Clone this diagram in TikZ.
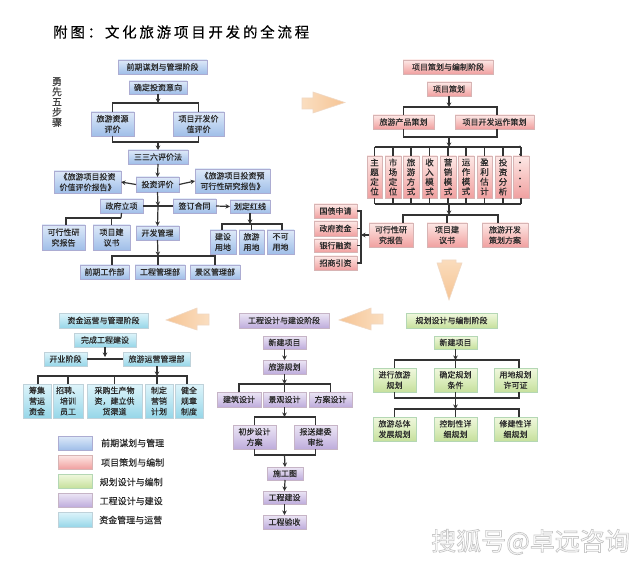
\documentclass[tikz,border=0pt]{standalone}
\usepackage{graphicx}
\usepackage{fontspec}
\setmainfont{Noto Sans CJK SC}
\newfontfamily\titlefont[LetterSpace=19,FakeBold=0.15]{Noto Sans CJK SC}
\newfontfamily\boxfont[FakeBold=0.3]{Noto Sans CJK SC}
\usetikzlibrary{arrows.meta,shadows}
\definecolor{lc}{HTML}{333333}
\definecolor{tc}{HTML}{2A2A2A}
\tikzset{
 box/.style={rectangle,inner sep=0pt,outer sep=0pt,align=center,text=tc,font=\boxfont\fontsize{8}{10.6}\selectfont,
   drop shadow={shadow xshift=1pt,shadow yshift=-1pt,fill=gray,opacity=.55}},
 bbox/.style={box,top color={rgb,255:red,222;green,233;blue,248},bottom color={rgb,255:red,160;green,190;blue,232},middle color={rgb,255:red,190;green,212;blue,241},draw=blue!30!gray!50!white},
 rbox/.style={box,top color={rgb,255:red,253;green,232;blue,230},bottom color={rgb,255:red,240;green,160;blue,160},middle color={rgb,255:red,247;green,196;blue,194},draw=red!30!gray!45!white},
 gbox/.style={box,top color={rgb,255:red,240;green,248;blue,222},bottom color={rgb,255:red,198;green,224;blue,156},middle color={rgb,255:red,220;green,237;blue,190},draw=green!30!gray!45!white},
 pbox/.style={box,top color={rgb,255:red,236;green,230;blue,245},bottom color={rgb,255:red,190;green,172;blue,220},middle color={rgb,255:red,214;green,202;blue,233},draw=violet!30!gray!45!white},
 cbox/.style={box,top color={rgb,255:red,222;green,244;blue,250},bottom color={rgb,255:red,150;green,214;blue,232},middle color={rgb,255:red,188;green,230;blue,242},draw=cyan!30!gray!45!white},
 ln/.style={draw=lc,line width=1.2pt},
 arr/.style={ln,-{Stealth[length=4.5pt,width=4.5pt]}},
 big/.style={draw={rgb,255:red,240;green,216;blue,196},line width=.6pt},
 lab/.style={text=tc,inner sep=0pt,font=\boxfont\fontsize{9}{11}\selectfont},
}
\newcommand{\bx}[7]{\node[#1,minimum width={(#5-#3)*1pt},minimum height={(#6-#4)*1pt}] (#2) at ({(#3+#5)/2},{-(#4+#6)/2}) {#7};}
\begin{document}
\begin{tikzpicture}[x=1pt,y=1pt]
\useasboundingbox[fill=white] (0,0) rectangle (640,-564);
\node[anchor=west,inner sep=0pt,text=black,font=\titlefont\fontsize{14.5}{16}\selectfont] (title) at (53,-32) {附图：文化旅游项目开发的全流程};
\node[align=center,inner sep=0pt,text=black!75,font=\boxfont\fontsize{10}{10.2}\selectfont] (steps) at (57,-102) {勇\\先\\五\\步\\骤};

% --- blue
\bx{bbox}{b0}{118}{60}{207}{74}{前期谋划与管理阶段}
\bx{bbox}{b1}{129}{81}{187}{94}{确定投资意向}
\bx{bbox}{b2}{91}{112}{134}{136}{旅游资源\\评价}
\bx{bbox}{b3}{173}{112}{224}{136}{项目开发价\\值评价}
\bx{bbox}{b4}{128}{150}{188}{164}{三三六评价法}
\bx{bbox}{b5}{136}{177}{179}{192}{投资评价}
\bx{bbox}{b6}{54}{171}{121}{193}{《旅游项目投资\\价值评价报告》}
\bx{bbox}{b7}{195}{169}{270}{193}{《旅游项目投资预\\可行性研究报告》}
\bx{bbox}{b8}{100}{199}{143}{213}{政府立项}
\bx{bbox}{b9}{173}{199}{216}{213}{签订合同}
\bx{bbox}{b10}{230}{200}{270}{213}{划定红线}
\bx{bbox}{b11}{42}{225}{85}{250}{可行性研\\究报告}
\bx{bbox}{b12}{93}{225}{130}{250}{项目建\\议书}
\bx{bbox}{b13}{136}{226}{179}{240}{开发管理}
\bx{bbox}{b14}{210}{230}{236}{254}{建设\\用地}
\bx{bbox}{b15}{239}{230}{264}{254}{旅游\\用地}
\bx{bbox}{b16}{267}{230}{294}{254}{不可\\用地}
\bx{bbox}{b17}{80}{265}{129}{279}{前期工作部}
\bx{bbox}{b18}{135}{265}{185}{279}{工程管理部}
\bx{bbox}{b19}{190}{265}{240}{279}{景区管理部}
\coordinate (bh1) at (158,-103);
\coordinate (bh2) at (158,-142);
\coordinate (bh3) at (158,-206);
\coordinate (bh4) at (121,-218);
\coordinate (bh5) at (250,-224);
\coordinate (bh6) at (158,-256);
\coordinate (bx1) at (66,-218);
\coordinate (bx2) at (112,-256);
\coordinate (bx3) at (215,-256);
\coordinate (bx4) at (222,-224);
\coordinate (bx5) at (282,-224);
\draw[arr] (b1.south) -- (bh1);
\draw[ln] (b2.north) -- (b2.north |- bh1) -- (b3.north |- bh1) -- (b3.north);
\draw[ln] (b2.south) -- (b2.south |- bh2) -- (b3.south |- bh2) -- (b3.south);
\draw[arr] (bh2) -- (b4.north);
\draw[arr] (b4.south) -- (b5.north);
\draw[arr] (b5.west) -- (b6.east);
\draw[arr] (b5.east) -- (b7.west);
\draw[arr] (b5.south) -- (bh3);
\draw[arr] (bh3) -- (b13.north);
\draw[ln] (b8.east) -- (b9.west);
\draw[arr] (b9.east) -- (b10.west);
\draw[ln] (b8.south) -- (bh4);
\draw[ln] (bx1 |- b11.north) -- (bx1) -- (bh4);
\draw[ln] (b12.north) -- (b12.north |- bh4);
\draw[arr] (b10.south -| bh5) -- (bh5);
\draw[ln] (bx4 |- b14.north) -- (bx4) -- (bx5) -- (bx5 |- b16.north);
\draw[ln] (b15.north) -- (b15.north |- bh5);
\draw[arr] (b13.south) -- (bh6);
\draw[ln] (bx2 |- b17.north) -- (bx2) -- (bx3) -- (bx3 |- b19.north);
\draw[ln] (bh6) -- (bh6 |- b18.north);

% --- red
\bx{rbox}{r0}{403}{60}{493}{74}{项目策划与编制阶段}
\bx{rbox}{r1}{427}{82}{471}{96}{项目策划}
\bx{rbox}{r2}{373}{115}{434}{129}{旅游产品策划}
\bx{rbox}{r3}{455}{115}{534}{129}{项目开发运作策划}
\tikzset{vb/.style={rbox,font=\boxfont\fontsize{8.5}{9.7}\selectfont}}
\bx{vb}{v1}{367}{156}{382}{198}{主\\题\\定\\位}
\bx{vb}{v2}{385}{156}{401}{198}{市\\场\\定\\位}
\bx{vb}{v3}{403}{156}{419}{198}{旅\\游\\方\\式}
\bx{vb}{v4}{422}{156}{437}{198}{收\\入\\模\\式}
\bx{vb}{v5}{440}{156}{456}{198}{营\\销\\模\\式}
\bx{vb}{v6}{458}{156}{474}{198}{运\\作\\模\\式}
\bx{vb}{v7}{477}{156}{492}{198}{盈\\利\\估\\计}
\bx{vb}{v8}{495}{156}{511}{198}{投\\资\\分\\析}
\bx{rbox}{v9}{513}{156}{529}{198}{\rotatebox{90}{\makebox[27pt][s]{·\hfil·\hfil·\hfil·\hfil·\hfil·}}}
\bx{rbox}{r4}{369}{223}{413}{247}{可行性研\\究报告}
\bx{rbox}{r5}{427}{223}{467}{247}{项目建\\议书}
\bx{rbox}{r6}{482}{223}{528}{247}{旅游开发\\策划方案}
\bx{rbox}{r7}{314}{204}{357}{218}{国债申请}
\bx{rbox}{r8}{314}{221}{357}{236}{政府资金}
\bx{rbox}{r9}{314}{239}{357}{252}{银行融资}
\bx{rbox}{r10}{314}{256}{357}{270}{招商引资}
\coordinate (rh1) at (449,-107);
\coordinate (rl1) at (403.5,-107);
\coordinate (rr1) at (497,-107);
\coordinate (rh2) at (449,-137);
\coordinate (rh3) at (449,-147);
\coordinate (rh4) at (449,-204);
\coordinate (rh5) at (449,-215);
\coordinate (rl2) at (403,-215);
\coordinate (rr2) at (498,-215);
\coordinate (rb) at (361,-236);
\draw[arr] (r1.south) -- (rh1);
\draw[ln] (rl1 |- r2.north) -- (rl1) -- (rr1) -- (rr1 |- r3.north);
\draw[ln] (rl1 |- r2.south) -- (rl1 |- rh2) -- (rr1 |- rh2) -- (rr1 |- r3.south);
\draw[arr] (rh2) -- (rh3);
\draw[ln] (v1.north |- rh3) -- (v9.north |- rh3);
\draw[ln] (v1.south |- rh4) -- (v9.south |- rh4);
\foreach \n in {v1,v2,v3,v4,v5,v6,v7,v8,v9}{
  \draw[ln] (\n.north) -- (\n.north |- rh3);
  \draw[ln] (\n.south) -- (\n.south |- rh4);
}
\draw[arr] (rh4) -- (rh5);
\draw[ln] (rl2 |- r4.north) -- (rl2) -- (rr2) -- (rr2 |- r6.north);
\draw[ln] (r5.north) -- (r5.north |- rh5);
\draw[ln] (r7.east) -- (r7.east -| rb) -- (r10.east -| rb) -- (r10.east);
\draw[ln] (r8.east) -- (r8.east -| rb);
\draw[ln] (r9.east) -- (r9.east -| rb);
\draw[arr] (r4.west) -- (r4.west -| rb);

% --- green
\bx{gbox}{g0}{406}{313}{497}{328}{规划设计与编制阶段}
\bx{gbox}{g1}{434}{336}{477}{349}{新建项目}
\bx{gbox}{g2}{373}{368}{416}{392}{进行旅游\\规划}
\bx{gbox}{g3}{434}{368}{477}{392}{确定规划\\条件}
\bx{gbox}{g4}{494}{368}{537}{392}{用地规划\\许可证}
\bx{gbox}{g5}{373}{417}{416}{441}{旅游总体\\发展规划}
\bx{gbox}{g6}{434}{417}{477}{441}{控制性详\\细规划}
\bx{gbox}{g7}{494}{417}{537}{441}{修建性详\\细规划}
\coordinate (gh1) at (455.5,-360);
\coordinate (gh2) at (455.5,-398);
\coordinate (gh3) at (455.5,-409);
\coordinate (gr) at (519,-360);
\draw[arr] (g1.south) -- (gh1);
\draw[ln] (g2.north) -- (g2.north |- gh1) -- (gr) -- (gr |- g4.north);
\draw[ln] (g3.north) -- (gh1);
\draw[ln] (g2.south) -- (g2.south |- gh2) -- (gr |- gh2) -- (gr |- g4.south);
\draw[ln] (g3.south) -- (gh2);
\draw[arr] (gh2) -- (gh3);
\draw[ln] (g5.north) -- (g5.north |- gh3) -- (gr |- gh3) -- (gr |- g7.north);
\draw[ln] (g6.north) -- (gh3);

% --- purple
\bx{pbox}{p0}{239}{313}{329}{328}{工程设计与建设阶段}
\bx{pbox}{p1}{263}{336}{306}{349}{新建项目}
\bx{pbox}{p2}{263}{360}{306}{374}{旅游规划}
\bx{pbox}{p3}{217}{392}{261}{407}{建筑设计}
\bx{pbox}{p4}{263}{392}{306}{407}{景观设计}
\bx{pbox}{p5}{309}{392}{352}{407}{方案设计}
\bx{pbox}{p6}{233}{425}{276}{449}{初步设计\\方案}
\bx{pbox}{p7}{294}{425}{337}{449}{报送建委\\审批}
\bx{pbox}{p8}{267}{467}{303}{480}{施工图}
\bx{pbox}{p9}{263}{491}{306}{504}{工程建设}
\bx{pbox}{p10}{263}{515}{306}{529}{工程验收}
\coordinate (ph1) at (284.5,-384);
\coordinate (ph2) at (284.5,-417);
\coordinate (ph3) at (284.5,-455);
\draw[arr] (p1.south) -- (p2.north);
\draw[arr] (p2.south) -- (ph1);
\draw[ln] (p3.north) -- (p3.north |- ph1) -- (p5.north |- ph1) -- (p5.north);
\draw[ln] (p4.north) -- (ph1);
\draw[arr] (p4.south) -- (ph2);
\draw[ln] (p6.north) -- (p6.north |- ph2) -- (p7.north |- ph2) -- (p7.north);
\draw[ln] (p6.south) -- (p6.south |- ph3) -- (p7.south |- ph3) -- (p7.south);
\draw[arr] (ph3) -- (p8.north);
\draw[arr] (p8.south) -- (p9.north);
\draw[arr] (p9.south) -- (p10.north);

% --- cyan
\bx{cbox}{c0}{59}{313}{148}{328}{资金运营与管理阶段}
\bx{cbox}{c1}{74}{333}{136}{347}{完成工程建设}
\bx{cbox}{c2}{44}{352}{87}{366}{开业阶段}
\bx{cbox}{c3}{123}{352}{190}{366}{旅游运营管理部}
\bx{cbox}{c4}{23}{384}{51}{418}{筹集\\营运\\资金}
\bx{cbox}{c5}{53}{384}{83}{418}{招聘、\\培训\\员工}
\bx{cbox}{c6}{87}{384}{142}{418}{采购生产物\\资，建立供\\货渠道}
\bx{cbox}{c7}{145}{384}{173}{418}{制定\\营销\\计划}
\bx{cbox}{c8}{175}{384}{203}{418}{健全\\规章\\制度}
\coordinate (ch1) at (105,-357);
\coordinate (ch2) at (157,-376);
\coordinate (cl) at (38,-376);
\coordinate (cr) at (187,-376);
\draw[ln] (c2.east) -- (c3.west);
\draw[arr] (c1.south) -- (ch1);
\draw[arr] (c3.south -| ch2) -- (ch2);
\draw[ln] (cl |- c4.north) -- (cl) -- (cr) -- (cr |- c8.north);
\draw[ln] (c5.north) -- (c5.north |- ch2);
\draw[ln] (c6.north) -- (c6.north |- ch2);
\draw[ln] (ch2) -- (ch2 |- c7.north);

% --- legend
\bx{bbox}{l1}{58}{436}{92}{450}{}
\bx{rbox}{l2}{58}{455}{92}{469}{}
\bx{gbox}{l3}{58}{474}{92}{488}{}
\bx{pbox}{l4}{58}{493}{92}{507}{}
\bx{cbox}{l5}{58}{512}{92}{527}{}
\node[lab,anchor=west] (t1) at (101,-443) {前期谋划与管理};
\node[lab,anchor=west] (t2) at (101,-462.5) {项目策划与编制};
\node[lab,anchor=west] (t3) at (99.5,-482) {规划设计与编制};
\node[lab,anchor=west] (t4) at (99.5,-501) {工程设计与建设};
\node[lab,anchor=west] (t5) at (99,-520) {资金管理与运营};

% --- big arrows
\path[big,left color={rgb,255:red,250;green,222;blue,192},right color={rgb,255:red,246;green,196;blue,148}]
  (302,-98) -- (313,-98) -- (313,-92) -- (345,-102.5) -- (313,-113) -- (313,-109) -- (302,-109) -- cycle;
\path[big,top color={rgb,255:red,250;green,220;blue,188},bottom color={rgb,255:red,246;green,196;blue,148}]
  (442,-260) -- (456,-260) -- (456,-263) -- (462,-263) -- (449,-300) -- (437,-263) -- (442,-263) -- cycle;
\path[big,right color={rgb,255:red,250;green,222;blue,192},left color={rgb,255:red,246;green,196;blue,148}]
  (383,-314) -- (371,-314) -- (371,-308) -- (339,-320) -- (371,-330) -- (371,-324) -- (383,-324) -- cycle;
\path[big,right color={rgb,255:red,250;green,222;blue,192},left color={rgb,255:red,246;green,196;blue,148}]
  (209,-314) -- (197,-314) -- (197,-308) -- (166,-320) -- (197,-330) -- (197,-325) -- (209,-325) -- cycle;

% --- watermark
\node[anchor=west,inner sep=0pt,text=white,font=\fontsize{25}{27}\selectfont] (wm) at (431,-542)
  {\special{pdf:code 2 Tr 0.7 w 0.78 0.78 0.78 RG}搜狐号@卓远咨询\special{pdf:code 0 Tr 0 0 0 RG}};
\end{tikzpicture}
\end{document}
